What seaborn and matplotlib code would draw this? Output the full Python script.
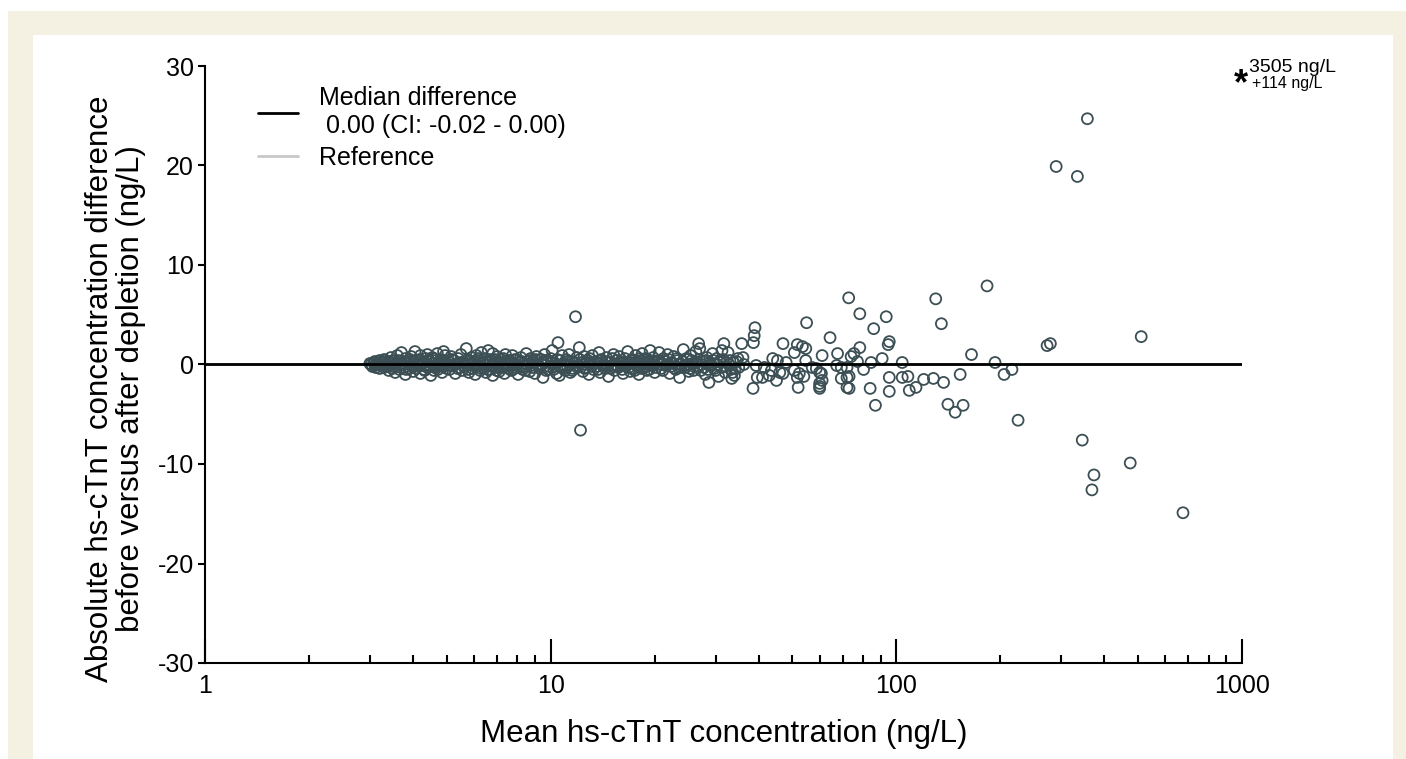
import matplotlib
matplotlib.use('Agg')
import matplotlib.pyplot as plt
from matplotlib.lines import Line2D
from matplotlib.patches import Rectangle
from matplotlib.ticker import LogLocator, NullFormatter
import pandas as pd
import seaborn as sns

# (mean, difference) pairs, both in ng/L
band_3_5 = [
    (3.0, 0.1), (3.05, -0.2), (3.1, 0.3), (3.1, -0.1), (3.15, 0.0), (3.2, 0.4),
    (3.2, -0.4), (3.25, 0.2), (3.3, -0.3), (3.3, 0.5), (3.35, 0.1), (3.4, -0.6),
    (3.4, 0.3), (3.45, 0.7), (3.5, -0.2), (3.5, 0.4), (3.55, -0.8), (3.6, 0.2),
    (3.6, 0.9), (3.65, -0.5), (3.7, 0.1), (3.7, 1.2), (3.75, -0.3), (3.8, 0.6),
    (3.8, -1.0), (3.85, 0.3), (3.9, -0.4), (3.95, 0.8), (4.0, 0.0), (4.0, -0.7),
    (4.05, 1.3), (4.1, 0.4), (4.15, -0.2), (4.2, 0.9), (4.2, -0.9), (4.25, 0.2),
    (4.3, -0.5), (4.35, 0.6), (4.4, 1.0), (4.4, -0.3), (4.45, 0.3), (4.5, -1.1),
    (4.55, 0.7), (4.6, 0.1), (4.6, -0.6), (4.65, 0.4), (4.7, 1.1), (4.75, -0.2),
    (4.8, 0.5), (4.85, -0.8), (4.9, 1.3), (4.95, 0.9), (5.0, -0.4),
]
band_5_10 = [
    (5.05, 0.3), (5.1, -0.5), (5.15, 0.8), (5.2, -0.1), (5.25, 0.4), (5.3, -0.9),
    (5.35, 0.1), (5.4, 0.6), (5.45, -0.3), (5.5, 1.0), (5.55, -0.6), (5.6, 0.2),
    (5.65, -0.2), (5.7, 1.6), (5.75, 0.5), (5.8, -0.8), (5.85, 0.0), (5.9, 0.7),
    (5.95, -0.4), (6.0, 0.3), (6.05, -1.0), (6.1, 0.9), (6.15, -0.1), (6.2, 0.4),
    (6.25, -0.6), (6.3, 1.2), (6.35, 0.1), (6.4, -0.3), (6.45, 0.6), (6.5, -0.8),
    (6.55, 0.2), (6.6, 1.4), (6.65, -0.5), (6.7, 0.3), (6.8, 1.1), (6.8, -1.1),
    (6.85, 0.0), (6.9, 0.5), (6.95, -0.3), (7.0, 0.8), (7.1, -0.7), (7.15, 0.2),
    (7.2, -0.2), (7.3, 0.6), (7.35, -0.9), (7.4, 1.0), (7.5, 0.1), (7.55, -0.4),
    (7.6, 0.4), (7.7, -0.6), (7.75, 0.9), (7.8, 0.0), (7.9, -0.3), (8.0, 0.5),
    (8.05, -1.0), (8.1, 0.2), (8.2, 0.7), (8.3, -0.5), (8.35, 0.1), (8.4, -0.2),
    (8.5, 1.1), (8.6, 0.3), (8.7, -0.7), (8.75, 0.6), (8.8, -0.1), (8.9, 0.4),
    (9.0, -0.9), (9.1, 0.8), (9.2, 0.0), (9.3, -0.4), (9.4, 0.5), (9.5, -1.3),
    (9.55, 0.2), (9.6, 1.0), (9.7, -0.6), (9.8, 0.3), (9.9, -0.2),
]
band_10_20 = [
    (10.0, 0.6), (10.1, 1.4), (10.2, -0.5), (10.3, 0.1), (10.4, -0.9), (10.5, 2.2),
    (10.6, -1.1), (10.65, 0.4), (10.7, -0.3), (10.8, 0.9), (10.9, 0.0), (11.0, -0.6),
    (11.1, 0.5), (11.2, -0.2), (11.3, 1.0), (11.4, -0.8), (11.5, 0.3), (11.6, -0.4),
    (11.8, 4.8), (11.9, 0.7), (12.0, -0.1), (12.1, 1.7), (12.2, -6.6), (12.3, 0.2),
    (12.4, -0.7), (12.5, 0.8), (12.6, -0.3), (12.8, 0.4), (12.9, -1.0), (13.0, 0.1),
    (13.2, 0.9), (13.3, -0.5), (13.5, 0.3), (13.6, -0.2), (13.8, 1.2), (13.9, -0.8),
    (14.0, 0.5), (14.2, 0.0), (14.4, -0.4), (14.5, 0.7), (14.7, -1.2), (14.8, 0.2),
    (15.0, -0.1), (15.2, 1.0), (15.3, -0.6), (15.5, 0.4), (15.7, -0.3), (15.8, 0.8),
    (16.0, 0.1), (16.2, -0.9), (16.4, 0.6), (16.5, -0.2), (16.7, 1.3), (16.9, 0.2),
    (17.0, -0.7), (17.2, 0.5), (17.4, -0.4), (17.6, 0.9), (17.8, 0.0), (18.0, -1.0),
    (18.2, 0.4), (18.4, 1.1), (18.6, -0.3), (18.8, 0.6), (19.0, -0.6), (19.2, 0.2),
    (19.4, 1.4), (19.6, -0.1), (19.8, 0.7), (20.0, -0.8),
]
band_20_37 = [
    (20.3, 0.3), (20.6, 1.2), (20.9, -0.4), (21.2, 0.6), (21.5, -0.1), (21.8, 1.0),
    (22.1, -0.9), (22.4, 0.2), (22.7, 0.8), (23.0, -0.5), (23.3, 0.4), (23.6, -1.3),
    (23.9, 0.0), (24.2, 1.5), (24.5, -0.3), (24.8, 0.5), (25.1, -0.7), (25.4, 0.9),
    (25.7, 0.1), (26.0, -0.2), (26.3, 1.3), (26.8, 2.1), (27.0, 1.6), (27.2, -0.6),
    (27.6, 0.3), (28.0, -1.0), (28.3, 0.7), (28.7, -1.8), (29.0, 0.0), (29.4, 1.1),
    (29.8, -0.4), (30.2, 0.6), (30.6, -1.2), (31.0, 0.2), (31.3, 1.4), (31.7, 2.1),
    (32.0, -0.8), (32.6, 1.2), (33.0, 0.4), (33.4, -1.4), (33.6, -0.8), (34.0, -1.1),
    (34.5, 0.3), (35.0, -0.3), (35.7, 2.1), (36.0, 0.7), (36.2, 0.0),
]
# the dark core of the band, points lying close to zero
band_core = [
    (3.02, 0.0), (3.08, 0.2), (3.12, -0.3), (3.18, 0.1), (3.22, -0.1), (3.28, 0.3),
    (3.32, 0.0), (3.38, -0.2), (3.42, 0.2), (3.48, -0.4), (3.52, 0.1), (3.58, -0.1),
    (3.62, 0.4), (3.68, -0.3), (3.72, 0.0), (3.78, 0.3), (3.82, -0.5), (3.88, 0.1),
    (3.92, 0.5), (3.98, -0.2), (4.02, 0.3), (4.08, -0.4), (4.12, 0.0), (4.18, 0.5),
    (4.22, -0.1), (4.28, 0.2), (4.32, -0.6), (4.38, 0.0), (4.42, 0.4), (4.48, -0.2),
    (4.52, 0.1), (4.58, 0.6), (4.62, -0.3), (4.68, 0.0), (4.72, -0.5), (4.78, 0.3),
    (4.82, 0.0), (4.88, -0.2), (4.92, 0.4), (4.98, 0.1), (5.08, -0.1), (5.18, 0.5),
    (5.28, 0.0), (5.38, -0.4), (5.48, 0.2), (5.58, -0.1), (5.68, 0.4), (5.78, -0.5),
    (5.88, 0.3), (5.98, 0.0), (6.08, -0.2), (6.18, 0.6), (6.28, -0.4), (6.38, 0.2),
    (6.48, 0.0), (6.58, -0.5), (6.68, 0.5), (6.78, -0.2), (6.88, 0.3), (6.98, -0.6),
    (7.08, 0.1), (7.18, 0.5), (7.28, -0.3), (7.38, 0.0), (7.48, 0.4), (7.58, -0.1),
    (7.68, 0.2), (7.78, -0.5), (7.88, 0.5), (7.98, 0.0), (8.15, -0.3), (8.25, 0.3),
    (8.45, -0.6), (8.55, 0.0), (8.65, 0.4), (8.85, -0.3), (8.95, 0.2), (9.05, 0.5),
    (9.25, -0.2), (9.45, 0.0), (9.65, 0.4), (9.85, -0.5), (10.05, 0.2), (10.25, -0.2),
    (10.45, 0.5), (10.75, 0.0), (10.95, -0.4), (11.15, 0.3), (11.35, 0.0), (11.55, -0.6),
    (11.75, 0.2), (11.95, -0.3), (12.15, 0.5), (12.35, 0.0), (12.55, -0.4), (12.75, 0.2),
    (12.95, 0.6), (13.15, -0.2), (13.4, 0.1), (13.7, -0.5), (13.95, 0.4), (14.3, -0.1),
    (14.6, 0.3), (14.9, -0.4), (15.1, 0.6), (15.4, 0.0), (15.6, -0.2), (15.9, 0.3),
    (16.1, -0.5), (16.3, 0.2), (16.6, 0.0), (16.8, -0.3), (17.1, 0.4), (17.3, 0.1),
    (17.5, -0.6), (17.7, 0.3), (17.9, -0.1), (18.1, 0.6), (18.3, -0.4), (18.5, 0.0),
    (18.7, 0.2), (18.9, -0.2), (19.1, 0.5), (19.3, -0.5), (19.5, 0.1), (19.7, 0.3),
    (19.9, 0.0), (20.2, -0.3), (20.5, 0.4), (20.8, 0.0), (21.1, -0.6), (21.4, 0.3),
    (21.7, 0.0), (22.0, 0.5), (22.3, -0.2), (22.6, 0.1), (22.9, -0.4), (23.2, 0.6),
    (23.5, 0.0), (23.8, -0.3), (24.1, 0.3), (24.4, -0.1), (24.7, 0.6), (25.0, 0.0),
    (25.3, -0.4), (25.6, 0.4), (25.9, -0.6), (26.2, 0.2), (26.5, -0.2), (26.9, 0.5),
    (27.3, 0.0), (27.8, -0.3), (28.2, 0.4), (28.5, -0.5), (28.9, 0.2), (29.2, -0.1),
    (29.6, 0.4), (30.0, -0.6), (30.4, 0.0), (30.8, 0.3), (31.2, -0.3), (31.6, 0.5),
    (32.2, -0.2), (32.8, 0.0), (33.2, -0.5), (33.8, 0.2), (34.2, -0.4), (34.8, 0.6),
]
mid_38_100 = [
    (38.5, -2.4), (38.6, 2.2), (38.8, 2.9), (39.0, 3.7), (39.3, -0.1), (39.6, -1.3),
    (41.0, -1.3), (41.5, -0.3), (42.9, -1.1), (43.5, -0.6), (43.9, 0.6), (45.0, -1.6),
    (45.3, 0.4), (46.0, -0.8), (47.0, 2.1), (47.0, -0.9), (48.0, 0.2), (50.7, 1.2),
    (50.7, -0.6), (51.7, 2.0), (51.7, -1.3), (52.0, -2.3), (52.4, -0.9), (53.5, 1.8),
    (54.0, -1.2), (54.7, 1.6), (54.7, 0.4), (55.0, 4.2), (57.1, -0.3), (58.7, -0.4),
    (60.0, -0.8), (60.0, -1.9), (60.0, -2.2), (60.0, -2.4), (60.7, -0.9), (61.0, 0.9),
    (61.0, -1.6), (64.3, 2.7), (67.2, -0.1), (67.6, 1.1), (69.3, -0.3), (69.3, -1.4),
    (72.0, -0.3), (72.0, -1.3), (72.0, -2.3), (72.8, 6.7), (73.0, -1.2), (73.0, -2.4),
    (74.0, 0.8), (75.4, 1.1), (77.2, 0.3), (78.4, 5.1), (78.4, 1.7), (80.4, -0.5),
    (84.0, -2.4), (84.5, 0.2), (86.0, 3.6), (87.0, -4.1), (91.0, 0.6), (93.5, 4.8),
    (94.7, 2.0), (95.4, 2.3), (95.4, -1.3), (95.4, -2.7),
]
high_100_700 = [
    (104, 0.2), (104, -1.3), (108, -1.2), (109, -2.6), (114, -2.3), (120, -1.5),
    (128, -1.4), (130, 6.6), (135, 4.1), (137, -1.8), (141, -4.0), (148, -4.8),
    (153, -1.0), (156, -4.1), (165, 1.0), (183, 7.9), (193, 0.2), (205, -1.0),
    (216, -0.5), (225, -5.6), (273, 1.9), (279, 2.1), (290, 19.9), (334, 18.9),
    (357, 24.7), (345, -7.6), (368, -12.6), (373, -11.1), (475, -9.9), (511, 2.8),
    (675, -14.9),
]

median_diff = 0.00
median_label = 'Median difference\n 0.00 (CI: -0.02 - 0.00)'
reference_label = 'Reference'
offscale_mean = '3505 ng/L'
offscale_diff = '+114 ng/L'

x_ticks = [1, 10, 100, 1000]
y_ticks = [-30, -20, -10, 0, 10, 20, 30]

sns.set_style('ticks')
plt.rcParams['font.family'] = ['Liberation Sans', 'DejaVu Sans']
plt.rcParams['axes.unicode_minus'] = False
for key in ['text.color', 'axes.labelcolor', 'xtick.color', 'ytick.color', 'axes.edgecolor']:
    plt.rcParams[key] = 'black'

df = pd.DataFrame(band_3_5 + band_5_10 + band_10_20 + band_20_37 + band_core
                  + mid_38_100 + high_100_700, columns=['mean', 'diff'])

fig = plt.figure(figsize=(14.06, 7.59), dpi=100)
fig.add_artist(Rectangle((8 / 1406, 0), 1, 1 - 11 / 759, transform=fig.transFigure,
                         fc='#f4f0e2', ec='none', zorder=-2))
fig.add_artist(Rectangle((33 / 1406, 0), 1360 / 1406, 1 - 35 / 759, transform=fig.transFigure,
                         fc='white', ec='none', zorder=-1))
ax = fig.add_axes([205 / 1406, 1 - 663 / 759, 1037 / 1406, 597 / 759])
ax.set_facecolor('none')

ax.axhline(median_diff, color='#c8c8c8', lw=2, zorder=2)
ax.axhline(median_diff, color='black', lw=2, zorder=4)

sns.scatterplot(data=df, x='mean', y='diff', ax=ax, marker='o', s=62,
                edgecolor='#3b4f54', linewidth=1.3, zorder=3, legend=False)
ax.collections[-1].set_facecolor('none')

ax.set_xscale('log')
ax.set_xlim(1, 1000)
ax.set_ylim(-30, 30)
ax.set_xticks(x_ticks)
ax.set_xticklabels([str(t) for t in x_ticks])
ax.xaxis.set_minor_locator(LogLocator(base=10, subs=range(2, 10)))
ax.xaxis.set_minor_formatter(NullFormatter())
ax.set_yticks(y_ticks)
ax.set_yticklabels([str(t) for t in y_ticks])

ax.tick_params(axis='x', which='major', direction='in', length=17, width=1.5,
               labelsize=18, pad=8)
ax.tick_params(axis='x', which='minor', direction='in', length=6, width=1.5)
ax.tick_params(axis='y', direction='out', length=5, width=1.5, labelsize=18, pad=3)
sns.despine(ax=ax)
for side in ['left', 'bottom']:
    ax.spines[side].set_linewidth(1.5)

ax.set_xlabel('Mean hs-cTnT concentration (ng/L)', fontsize=22.5)
ax.set_ylabel('Absolute hs-cTnT concentration difference\nbefore versus after depletion (ng/L)',
              fontsize=22.5, linespacing=1.05)
ax.xaxis.set_label_coords(0.5, -0.093)
ax.yaxis.set_label_coords(-0.057, 0.46)

handles = [Line2D([], [], color='black', lw=2), Line2D([], [], color='#c8c8c8', lw=2)]
ax.legend(handles, [median_label, reference_label], loc='upper left',
          bbox_to_anchor=(0.051, 0.966), frameon=False, fontsize=18,
          handlelength=1.6, handletextpad=0.85, labelspacing=0.3,
          borderpad=0, borderaxespad=0)

ax.text(993, 27.2, '*', fontsize=26, fontweight='bold', ha='center', va='baseline',
        clip_on=False)
ax.text(1047, 29.35, offscale_mean, fontsize=14, ha='left', va='baseline', clip_on=False)
ax.text(1069, 27.8, offscale_diff, fontsize=11.5, ha='left', va='baseline', clip_on=False)

fig.savefig('out.png', dpi=100)
